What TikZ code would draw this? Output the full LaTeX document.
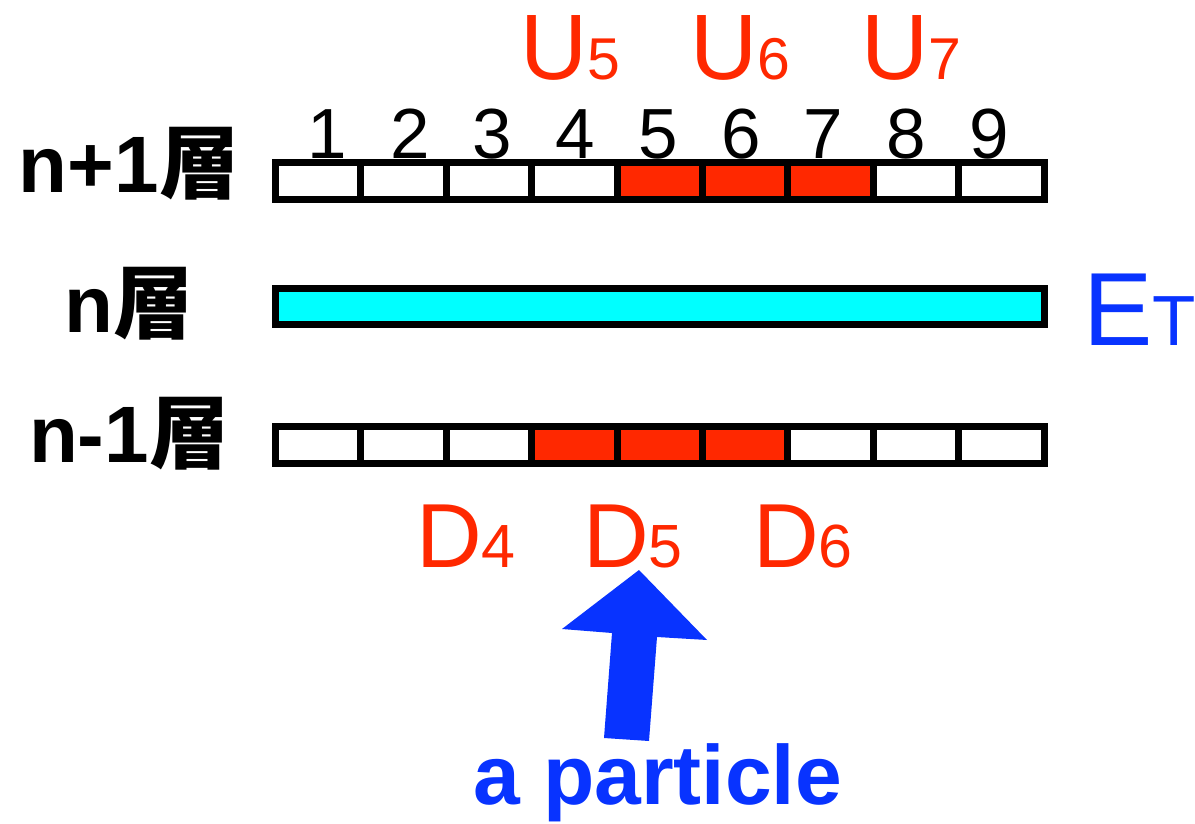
\documentclass[tikz,border=0pt]{standalone}
\usepackage{fontspec}
\setmainfont{Liberation Sans}
\newfontfamily\cjk{Noto Sans CJK JP}
\definecolor{ured}{RGB}{255,40,0}
\definecolor{ublue}{RGB}{8,51,255}
\definecolor{ucyan}{RGB}{0,255,255}
\newcommand\fsz[1]{\fontsize{#1}{#1}\selectfont}
\begin{document}
\begin{tikzpicture}[x=1pt,y=-1pt,
  barline/.style={draw=black,line width=7pt},
  num/.style={anchor=base,inner sep=0pt,font=\fsz{71}},
  lbl/.style={anchor=base,inner sep=0pt,font=\fsz{80}\bfseries},
  ulab/.style={anchor=base west,inner sep=0pt,text=ured,font=\fsz{93}},
  dlab/.style={anchor=base west,inner sep=0pt,text=ured,font=\fsz{91}},
  elab/.style={anchor=base west,inner sep=0pt,text=ublue,font=\fsz{104}},
  plab/.style={anchor=base west,inner sep=0pt,text=ublue,font=\fsz{84}\bfseries}]
\useasboundingbox (0,0) rectangle (1195,824);
% layer labels
\node[lbl] (lup) at (129,193) {n+1{\cjk 層}};
\node[lbl] (lmid) at (129,332) {n{\cjk 層}};
\node[lbl] (llow) at (129,462) {n-1{\cjk 層}};
% top bar (n+1)
\fill[ured] (617.1,162.5) rectangle (873.3,200);
\draw[barline] (275.5,162.5) rectangle (1044,200);
\foreach \i in {1,...,8}
  \draw[barline] ({275.5+85.4*\i},162.5) -- ({275.5+85.4*\i},200);
\foreach \i in {1,...,9}
  \node[num] (n\i) at ({327+82.75*(\i-1)},159) {\i};
% middle bar (n)
\draw[barline,fill=ucyan] (275.5,288) rectangle (1044,324.5);
% bottom bar (n-1)
\fill[ured] (531.7,426.5) rectangle (787.9,463.5);
\draw[barline] (275.5,426.5) rectangle (1044,463.5);
\foreach \i in {1,...,8}
  \draw[barline] ({275.5+85.4*\i},426.5) -- ({275.5+85.4*\i},463.5);
% U labels
\node[ulab] (u5) at (520,80) {U{\fsz{59}5}};
\node[ulab] (u6) at (690,80) {U{\fsz{59}6}};
\node[ulab] (u7) at (861,80) {U{\fsz{59}7}};
% D labels
\node[dlab] (d4) at (416,567) {D{\fsz{61}4}};
\node[dlab] (d5) at (583,567) {D{\fsz{61}5}};
\node[dlab] (d6) at (753,567) {D{\fsz{61}6}};
% E_T
\node[elab] (et) at (1083,345) {E{\fsz{71}T}};
% arrow
\fill[ublue] (639,570) -- (707,640) -- (657,637) -- (649,741) -- (604,738) -- (612,633) -- (562,629) -- cycle;
\node[plab] (part) at (473,804) {a particle};
\end{tikzpicture}
\end{document}
